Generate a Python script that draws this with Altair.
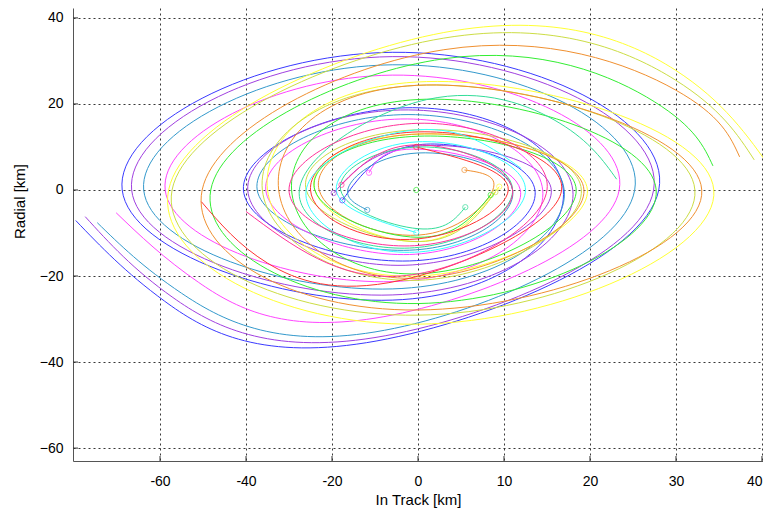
import altair as alt
import pandas as pd

# ---- axes ----
x_ticks = [-30, -20, -10, 0, 10, 20, 30, 40]
x_tick_labels = ["-60", "-40", "-20", "0", "10", "20", "30", "40"]
y_ticks = [40, 20, 0, -20, -40, -60]
x_domain = [-40.12, 40.12]
y_domain = [-63.0, 42.3]

# ---- trajectories (key points: start marker, then points clockwise) ----
names = ["blue", "purple", "steelblue", "magenta", "yellow", "khaki",
         "orange", "green", "red", "cyan", "seagreen", "deeppink"]
colors = ["#3a3aff", "#a040e0", "#3399cc", "#ff44ff", "#ffff33", "#ccdd44",
          "#f09030", "#33ee33", "#ff3333", "#33ffff", "#33dd99", "#ff3399"]

blue_x = [-8.8, 0.5, 13.6, -1.0, -20.3, -1.5, 16.9, -3.0, -34.4, -3.0, 28.0, -6.0, -29.5, -39.8]
blue_y = [-2.4, 10.6, 0.0, -16.5, 0.0, 19.1, 0.0, -25.6, 0.0, 32.0, 0.0, -35.5, -25.8, -7.1]

purple_x = [-9.8, 0.5, 15.5, -1.5, -19.8, -2.0, 18.0, -3.0, -33.3, -3.0, 27.4, -5.0, -28.5, -38.7]
purple_y = [-0.7, 10.3, 0.0, -17.5, 0.0, 18.6, 0.0, -24.4, 0.0, 31.0, 0.0, -34.3, -25.0, -6.2]

steel_x = [-5.9, -8.0, 0.0, 11.0, -1.0, -18.7, -2.0, 17.0, -3.0, -31.9, -3.0, 25.2, -5.0, -27.5, -37.3]
steel_y = [-4.65, 1.0, 8.6, 0.0, -14.0, 0.0, 17.5, 0.0, -23.0, 0.0, 29.1, 0.0, -33.0, -24.0, -7.6]

magenta_x = [-5.7, 0.0, 11.9, -1.0, -17.7, -2.0, 14.5, -3.0, -29.4, -3.0, 23.4, -5.0, -25.5, -35.1]
magenta_y = [4.0, 9.5, 0.0, -15.0, 0.0, 16.5, 0.0, -21.3, 0.0, 26.7, 0.0, -29.8, -21.5, -5.3]

yellow_x = [9.45, 0.0, -12.0, 0.0, 19.7, 0.0, -17.5, 1.0, 34.4, 0.0, -29.0, 3.0, 29.9, 41.2]
yellow_y = [0.77, -12.0, 0.0, 13.0, 0.0, -20.0, 0.0, 25.2, 0.0, -31.2, 0.0, 36.6, 27.9, 4.5]

khaki_x = [9.0, 0.0, -13.0, 0.0, 19.0, 0.0, -18.1, 1.0, 32.2, 0.0, -28.6, 3.0, 29.9, 39.1]
khaki_y = [-0.5, -12.0, 0.0, 14.0, 0.0, -21.0, 0.0, 24.4, 0.0, -29.1, 0.0, 35.3, 25.6, 7.0]

orange_x = [5.4, 8.7, 0.0, -11.5, 0.0, 19.3, 0.0, -16.2, 1.0, 33.0, 0.0, -25.1, 3.0, 29.9, 37.4]
orange_y = [4.65, 0.0, -10.5, 0.0, 13.0, 0.0, -20.5, 0.0, 24.4, 0.0, -27.9, 0.0, 32.6, 23.3, 7.7]

green_x = [8.45, 0.0, -12.0, 0.0, 18.4, 0.0, -14.7, 1.0, 27.7, 0.0, -24.1, 3.0, 27.5, 34.3]
green_y = [-1.16, -11.0, 0.0, 12.5, 0.0, -19.5, 0.0, 21.1, 0.0, -26.4, 0.0, 30.5, 20.5, 5.6]

red_x = [-0.2, 10.5, -1.0, -12.5, 0.0, 16.7, -2.0, -17.5, -25.2]
red_y = [10.0, 0.0, -11.5, 0.0, 13.5, 0.0, -21.0, -17.0, -2.7]

cyan_x = [-0.2, -9.5, 0.0, 12.5, -1.0, -13.0, 0.0, 12.0]
cyan_y = [-9.9, 0.0, 11.2, 0.0, -14.5, 0.0, 14.0, 5.0]

seagreen_x = [5.5, 0.0, -9.0, 0.0, 11.0, -1.0, -13.8, 1.0, 16.5, 23.1]
seagreen_y = [-4.0, -9.0, 0.0, 10.0, 0.0, -13.5, 0.0, 21.0, 15.5, 2.5]

deeppink_x = [-8.9, 0.0, 11.0, -1.0, -15.0, 0.0, 15.0, -2.0, -20.0]
deeppink_y = [1.2, 10.5, 0.0, -13.0, 0.0, 15.5, 0.0, -20.0, -5.0]

target_x = [-0.2]
target_y = [0.0]

series_x = [blue_x, purple_x, steel_x, magenta_x, yellow_x, khaki_x,
            orange_x, green_x, red_x, cyan_x, seagreen_x, deeppink_x]
series_y = [blue_y, purple_y, steel_y, magenta_y, yellow_y, khaki_y,
            orange_y, green_y, red_y, cyan_y, seagreen_y, deeppink_y]

rows = []
marks = []
for name, col, xs, ys in zip(names, colors, series_x, series_y):
    for i, (xv, yv) in enumerate(zip(xs, ys)):
        rows.append({"traj": name, "i": i, "x": xv, "y": yv, "color": col})
    marks.append({"x": xs[0], "y": ys[0], "color": col})
for xv, yv in zip(target_x, target_y):
    marks.append({"x": xv, "y": yv, "color": "#33ee33"})

lines_df = pd.DataFrame(rows)
marks_df = pd.DataFrame(marks)
xt_df = pd.DataFrame({"x": x_ticks})
yt_df = pd.DataFrame({"y": y_ticks})

label_expr = " : ".join(
    [f"datum.value == {v} ? '{l}'" for v, l in zip(x_ticks, x_tick_labels)]
) + " : datum.label"

x_scale = alt.Scale(domain=x_domain, nice=False, zero=False)
y_scale = alt.Scale(domain=y_domain, nice=False, zero=False)

x_enc = alt.X(
    "x:Q", scale=x_scale,
    axis=alt.Axis(values=x_ticks, labelExpr=label_expr, title="In Track [km]",
                  grid=True, ticks=False, labelPadding=13, titlePadding=4,
                  labelFlush=4),
)
y_enc = alt.Y(
    "y:Q", scale=y_scale,
    axis=alt.Axis(values=y_ticks, title="Radial [km]", grid=True, ticks=False,
                  labelPadding=10, titleX=-46, titleY=193),
)

lines = alt.Chart(lines_df).mark_line(
    interpolate="natural", strokeWidth=1, clip=True
).encode(
    x=x_enc, y=y_enc,
    detail="traj:N",
    order="i:Q",
    color=alt.Color("color:N", scale=None),
)

points = alt.Chart(marks_df).mark_point(
    shape="circle", filled=False, size=28, strokeWidth=1, clip=True
).encode(
    x=alt.X("x:Q"), y=alt.Y("y:Q"),
    color=alt.Color("color:N", scale=None),
)

# inward tick marks (MATLAB style)
xticks = alt.Chart(xt_df).mark_rule(color="#333333", strokeWidth=1).encode(
    x=alt.X("x:Q"), y=alt.value(453), y2=alt.value(448)
)
yticks = alt.Chart(yt_df).mark_rule(color="#333333", strokeWidth=1).encode(
    y=alt.Y("y:Q"), x=alt.value(0), x2=alt.value(5)
)

chart = alt.layer(lines, points, xticks, yticks).properties(
    width=690, height=453,
    autosize=alt.AutoSizeParams(type="none"),
    padding={"left": 65, "top": 0, "right": 0, "bottom": 48},
).configure_axis(
    gridColor="#222222", gridDash=[2, 3], gridWidth=1, gridOpacity=0.9,
    domainColor="#555555", domainWidth=1,
    labelFont="Liberation Sans", labelFontSize=14, labelColor="#000000",
    titleFont="Liberation Sans", titleFontSize=15, titleColor="#000000",
    titleFontWeight="normal",
).configure_view(stroke=None)

chart.save("out.html", embed_options={"renderer": "svg", "actions": False})
